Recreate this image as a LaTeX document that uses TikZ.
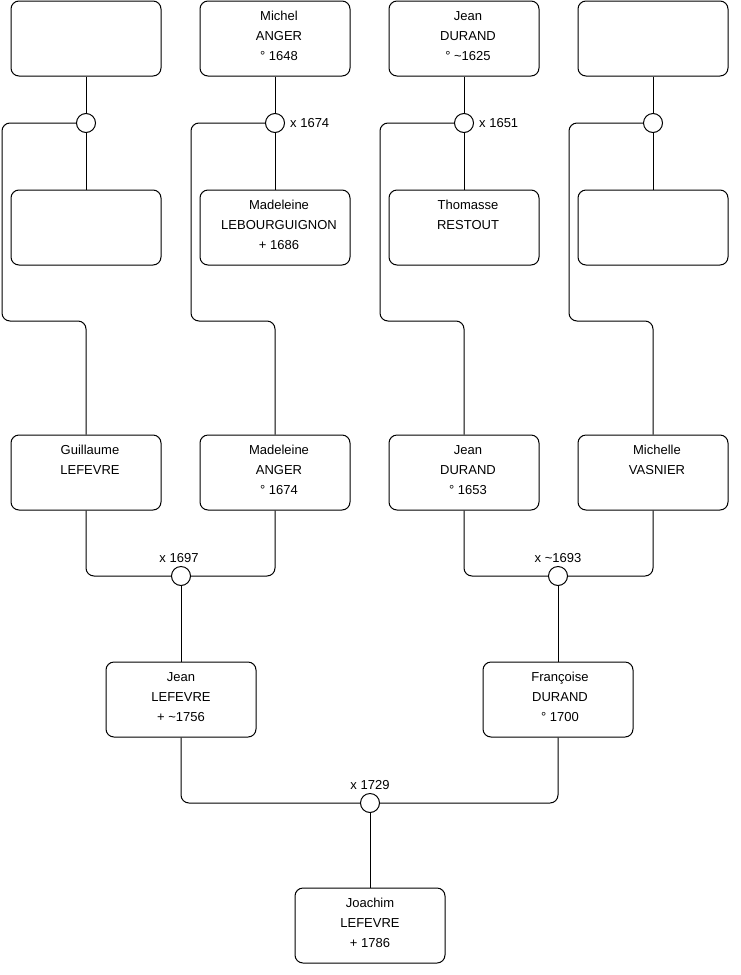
\documentclass[tikz,border=0pt]{standalone}
\usepackage{fontspec}
\setmainfont{Liberation Sans}
\newcommand\ptext[2]{\parbox[t][75pt][t]{150pt}{\fontsize{13}{20}\selectfont\centering\leftskip=#1 plus 1fil\rule{0pt}{19.5pt}#2}}
\tikzset{
  person/.style={draw=black, line width=1pt, rounded corners=8pt, rectangle, inner sep=0pt, fill=white},
  wed/.style={draw=black, line width=1pt, circle, fill=white, minimum size=19pt, inner sep=0pt},
  wire/.style={draw=black, line width=1pt, rounded corners=8pt},
  lbl/.style={font=\fontsize{13}{15}\selectfont, inner sep=1pt}
}
\begin{document}
\begin{tikzpicture}[x=1pt,y=-1pt]
\useasboundingbox (0,0) rectangle (740,975);
% row 1
\node[person] (a1) at (86,38.5) {\ptext{8pt}{}};
\node[person] (a2) at (275,38.5) {\ptext{8pt}{Michel\\ANGER\\° 1648}};
\node[person] (a3) at (464,38.5) {\ptext{8pt}{Jean\\DURAND\\° \textasciitilde1625}};
\node[person] (a4) at (653,38.5) {\ptext{8pt}{}};
% row 2
\node[person] (b1) at (86,227.5) {\ptext{8pt}{}};
\node[person] (b2) at (275,227.5) {\ptext{8pt}{Madeleine\\LEBOURGUIGNON\\+ 1686}};
\node[person] (b3) at (464,227.5) {\ptext{8pt}{Thomasse\\RESTOUT}};
\node[person] (b4) at (653,227.5) {\ptext{8pt}{}};
% row 3
\node[person] (p1) at (86,472.5) {\ptext{8pt}{Guillaume\\LEFEVRE}};
\node[person] (p2) at (275,472.5) {\ptext{8pt}{Madeleine\\ANGER\\° 1674}};
\node[person] (p3) at (464,472.5) {\ptext{8pt}{Jean\\DURAND\\° 1653}};
\node[person] (p4) at (653,472.5) {\ptext{8pt}{Michelle\\VASNIER}};
% row 4
\node[person] (q1) at (181,699.5) {\ptext{0pt}{Jean\\LEFEVRE\\+ \textasciitilde1756}};
\node[person] (q2) at (558,699.5) {\ptext{4pt}{Françoise\\DURAND\\° 1700}};
% row 5
\node[person] (j) at (370,925.5) {\ptext{0pt}{Joachim\\LEFEVRE\\+ 1786}};
% marriage circles
\node[wed] (c1) at (86,123) {};
\node[wed] (c2) at (275,123) {};
\node[wed] (c3) at (464,123) {};
\node[wed] (c4) at (653,123) {};
\node[wed] (m1) at (181,576) {};
\node[wed] (m2) at (558,576) {};
\node[wed] (m3) at (370,803) {};
% labels
\node[lbl, anchor=west] (l2) at (289,123) {x 1674};
\node[lbl, anchor=west] (l3) at (478,123) {x 1651};
\node[lbl] (l5) at (179,558) {x 1697};
\node[lbl] (l6) at (558,558) {x \textasciitilde1693};
\node[lbl] (l7) at (370,785) {x 1729};
% connectors top
\foreach \i in {1,2,3,4}{
  \draw[wire] (a\i) -- (c\i);
  \draw[wire] (c\i) -- (b\i);
}
\draw[wire] (c1.west) -| (2,321) -| (p1.north);
\draw[wire] (c2.west) -| (191,321) -| (p2.north);
\draw[wire] (c3.west) -| (380,321) -| (p3.north);
\draw[wire] (c4.west) -| (569,321) -| (p4.north);
% lower connectors
\draw[wire] (p1.south) |- (m1.west);
\draw[wire] (p2.south) |- (m1.east);
\draw[wire] (m1) -- (q1);
\draw[wire] (p3.south) |- (m2.west);
\draw[wire] (p4.south) |- (m2.east);
\draw[wire] (m2) -- (q2);
\draw[wire] (q1.south) |- (m3.west);
\draw[wire] (q2.south) |- (m3.east);
\draw[wire] (m3) -- (j);
\end{tikzpicture}
\end{document}
